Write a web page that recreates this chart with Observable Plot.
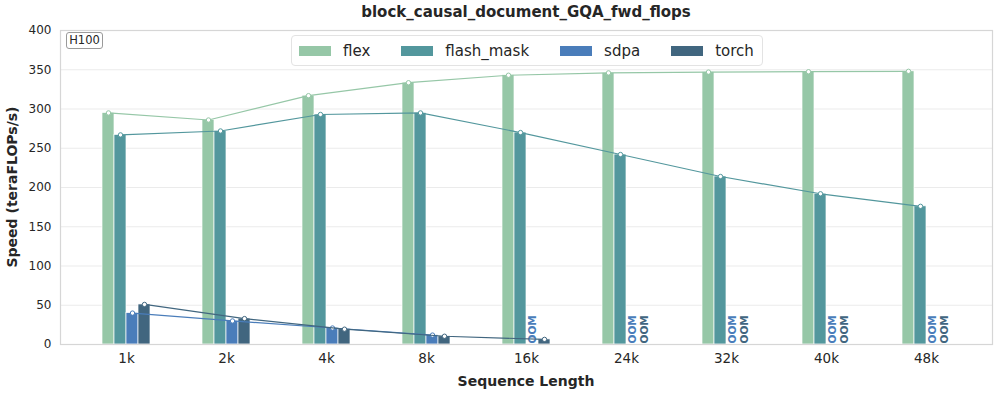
<!DOCTYPE html>
<html>
<head>
<meta charset="utf-8">
<script src="https://cdn.jsdelivr.net/npm/d3@7"></script>
<script src="https://cdn.jsdelivr.net/npm/@observablehq/plot@0.6"></script>
<style>
  html, body { margin: 0; padding: 0; background: #fff; }
  #wrap { position: relative; width: 997px; height: 394px; font-family: "DejaVu Sans", sans-serif; color: #262626; }
  #wrap svg { position: absolute; left: 0; top: 0; }
  .ov { position: absolute; white-space: nowrap; }
  #title { left: 526px; top: 12px; transform: translate(-50%, -50%); font-weight: bold; font-size: 15px; }
  #ylab { left: 12px; top: 187px; transform: translate(-50%, -50%) rotate(-90deg); font-weight: bold; font-size: 14px; }
  #xlab { left: 526px; top: 381px; transform: translate(-50%, -50%); font-weight: bold; font-size: 14px; }
  #gpu { left: 66px; top: 32px; width: 35px; height: 15px; border: 1px solid #9a9a9a; border-radius: 3px; font-size: 11.5px; line-height: 15px; text-align: center; background: #fff; }
  #legend { left: 291px; top: 35px; height: 29px; padding: 0 7px; border: 1px solid #e3e3e3; border-radius: 4px; background: rgba(255,255,255,0.85); display: flex; align-items: center; font-size: 15px; }
  .item { display: flex; align-items: center; margin-right: 31px; }
  .item:last-child { margin-right: 1px; }
  .sw { width: 32px; height: 10px; margin-right: 12px; }
</style>
</head>
<body>
<div id="wrap"></div>
<script>
// ---- data ----
const categories = ["1k", "2k", "4k", "8k", "16k", "24k", "32k", "40k", "48k"];
const seriesNames = ["flex", "flash_mask", "sdpa", "torch"];
const flexValues = [295, 286, 317, 333.5, 343, 346, 347, 347.5, 348];
const flashMaskValues = [267, 272, 293, 295, 270, 242, 214, 192, 176];
const sdpaValues = [40, 30, 21, 12, null, null, null, null, null];
const torchValues = [51, 33, 19.5, 10.5, 6.5, null, null, null, null];
const yTicks = [0, 50, 100, 150, 200, 250, 300, 350, 400];
const gridValues = [50, 100, 150, 200, 250, 300, 350];
const colors = ["#96c7a7", "#53979d", "#4a7dba", "#41667f"];

const allValues = [flexValues, flashMaskValues, sdpaValues, torchValues];
const marks = [];
marks.push(Plot.ruleY(gridValues, {stroke: "#ebebeb", strokeWidth: 1}));

allValues.forEach((vals, i) => {
  const rows = categories.map((c, j) => ({cat: c, v: vals[j]}));
  const ok = rows.filter(d => d.v != null);
  const oom = rows.filter(d => d.v == null);
  marks.push(Plot.barY(ok, {x: "cat", y: "v", fill: colors[i], stroke: "white", strokeWidth: 0.7,
    insetLeft: 12 * i, insetRight: 12 * (3 - i)}));
  if (oom.length) {
    marks.push(Plot.text(oom, {x: "cat", y: () => 0, text: () => "OOM", rotate: -90, textAnchor: "start",
      lineAnchor: "middle", dx: 12 * i - 18, dy: -1, fill: colors[i], fontWeight: "bold", fontSize: 10.5}));
  }
});
allValues.forEach((vals, i) => {
  const ok = categories.map((c, j) => ({cat: c, v: vals[j]})).filter(d => d.v != null);
  marks.push(Plot.line(ok, {x: "cat", y: "v", stroke: colors[i], strokeWidth: 1.2, dx: 12 * i - 18}));
  marks.push(Plot.dot(ok, {x: "cat", y: "v", r: 2.2, fill: "white", stroke: colors[i], strokeWidth: 1, dx: 12 * i - 18}));
});
marks.push(Plot.frame({stroke: "#d6d6d6", strokeWidth: 1.2}));
marks.push(Plot.axisX({tickSize: 0, tickPadding: 9, fontSize: 13.5, label: null, fill: "#262626"}));
marks.push(Plot.axisY({ticks: yTicks, tickSize: 0, tickPadding: 9, fontSize: 12, label: null, fill: "#262626"}));

const chart = Plot.plot({
  width: 997, height: 394,
  marginLeft: 60, marginRight: 5, marginTop: 30, marginBottom: 50,
  style: {fontFamily: "DejaVu Sans, sans-serif", background: "transparent", color: "#262626"},
  x: {domain: categories, paddingInner: 0.52, paddingOuter: 0.42, axis: null},
  y: {domain: [0, 400], axis: null},
  marks
});

const wrap = document.getElementById("wrap");
wrap.appendChild(chart);

function addDiv(id, text) {
  const d = document.createElement("div");
  d.className = "ov"; d.id = id; d.textContent = text; wrap.appendChild(d); return d;
}
addDiv("title", "block_causal_document_GQA_fwd_flops");
addDiv("ylab", "Speed (teraFLOPs/s)");
addDiv("xlab", "Sequence Length");
addDiv("gpu", "H100");
const leg = addDiv("legend", "");
seriesNames.forEach((s, i) => {
  const it = document.createElement("div"); it.className = "item";
  const sw = document.createElement("div"); sw.className = "sw"; sw.style.background = colors[i];
  const lb = document.createElement("span"); lb.textContent = s;
  it.appendChild(sw); it.appendChild(lb); leg.appendChild(it);
});
</script>
</body>
</html>
